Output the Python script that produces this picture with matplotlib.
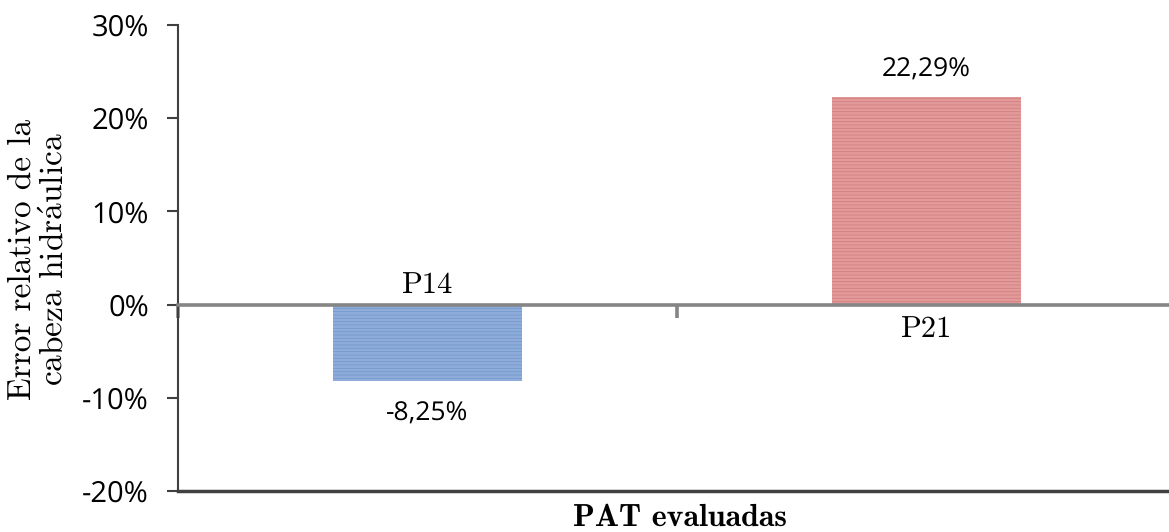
import matplotlib
matplotlib.use("Agg")
import matplotlib.pyplot as plt
from matplotlib.ticker import FuncFormatter, FixedLocator, NullLocator

categories = ["P14", "P21"]
values = [-0.0825, 0.2229]
value_labels = ["-8,25%", "22,29%"]
y_ticks = [-0.2, -0.1, 0.0, 0.1, 0.2, 0.3]

bar_colors = ["#8eaddb", "#e39a9a"]
stripe_colors = ["#7497cc", "#d48080"]

serif = ["cmr10", "DejaVu Serif"]
sans = ["Open Sans", "DejaVu Sans"]

plt.rcParams["hatch.linewidth"] = 0.6
plt.rcParams["mathtext.fontset"] = "cm"
plt.rcParams["text.hinting"] = "no_hinting"

fig = plt.figure(figsize=(11.69, 5.32), dpi=100)
ax = fig.add_axes([178 / 1169, 1 - 491 / 532, 1 - 178 / 1169, (491 - 25) / 532])

x = range(len(categories))
bars = ax.bar(x, values, width=0.38, color=bar_colors, zorder=2)
for bar, sc in zip(bars, stripe_colors):
    bar.set_hatch("-----")
    bar.set_edgecolor(sc)
    bar.set_linewidth(0)

ax.set_ylim(-0.2, 0.3)
ax.set_xlim(-0.5, 1.486)
ax.set_yticks(y_ticks)
ax.yaxis.set_major_formatter(FuncFormatter(lambda v, p: f"{v * 100:.0f}%"))
for lbl in ax.get_yticklabels():
    lbl.set_family(sans)
    lbl.set_fontsize(21)
ax.tick_params(axis="y", direction="out", length=8, width=1.5, color="#404040", pad=13)

# zero line acts as the category axis
ax.spines["bottom"].set_position(("data", 0))
ax.spines["bottom"].set_color("#858585")
ax.spines["bottom"].set_linewidth(2.6)
ax.spines["bottom"].set_zorder(3)
ax.spines["top"].set_visible(False)
ax.spines["right"].set_visible(False)
ax.spines["left"].set_color("#404040")
ax.spines["left"].set_linewidth(1.5)
ax.axhline(-0.2, color="#404040", linewidth=2.5, clip_on=False)

ax.xaxis.set_major_locator(NullLocator())
ax.xaxis.set_minor_locator(FixedLocator([-0.5, 0.5]))
ax.tick_params(axis="x", which="minor", direction="out", length=9, width=2.6, color="#858585")

for i, (cat, v, vl) in enumerate(zip(categories, values, value_labels)):
    if v < 0:
        ax.annotate(cat, (i, 0), xytext=(0, 4), textcoords="offset points",
                    ha="center", va="bottom", family=serif, fontsize=22)
        ax.annotate(vl, (i, v), xytext=(0, -14), textcoords="offset points",
                    ha="center", va="top", family=sans, fontsize=19)
    else:
        ax.annotate(cat, (i, 0), xytext=(0, -8), textcoords="offset points",
                    ha="center", va="top", family=serif, fontsize=22)
        ax.annotate(vl, (i, v), xytext=(0, 10), textcoords="offset points",
                    ha="center", va="bottom", family=sans, fontsize=19)

fig.text(0.582, 0.026, "PAT evaluadas", ha="center", va="center",
         family=["cmb10", "DejaVu Serif"], fontsize=23)
# y label, two lines
fig.text(0.019, 0.513, "Error relativo de la", ha="center", va="center",
         rotation=90, family=serif, fontsize=24)
fig.text(0.046, 0.513, "cabeza hidr$\\acute{\\mathrm{a}}$ulica", ha="center",
         va="center", rotation=90, family=serif, fontsize=24)

fig.savefig("out.png", dpi=100)
